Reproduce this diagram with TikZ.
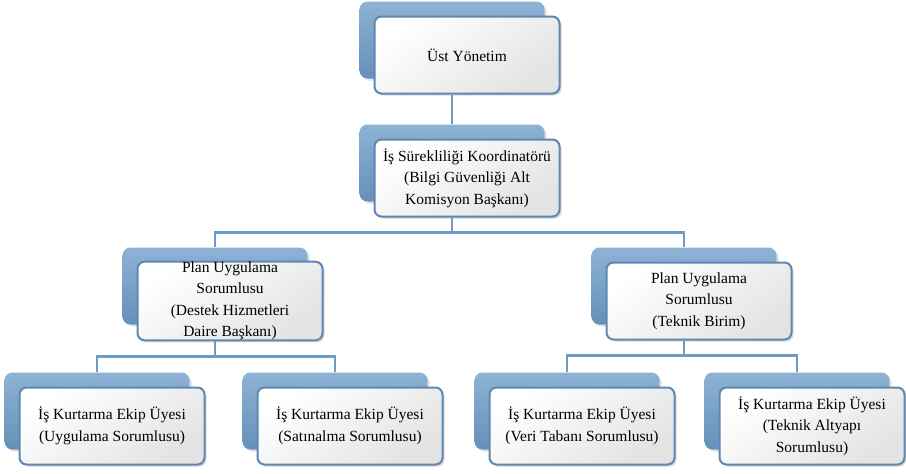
\documentclass[tikz,border=0pt]{standalone}
\usepackage{fontspec}
\setmainfont{Liberation Serif}
\usepackage{tikz}
\usetikzlibrary{shadows}
\definecolor{backtop}{HTML}{8DB2D4}
\definecolor{backbot}{HTML}{6690B9}
\definecolor{frameblue}{HTML}{5E88B2}
\definecolor{linkblue}{HTML}{6E9BC6}

\begin{document}
\begin{tikzpicture}[x=1pt,y=-1pt]
\tikzstyle{blueback}=[rounded corners=8pt, minimum width=185pt, minimum height=77pt, inner sep=0pt, top color=backtop, bottom color=backbot, drop shadow={opacity=0.2}]
\tikzstyle{whitebox}=[rounded corners=7pt, minimum width=185pt, minimum height=77pt, inner sep=0pt, draw=frameblue, line width=2pt, top color=white, middle color=white, bottom color=black!11, shading angle=35, drop shadow={opacity=0.3,shadow xshift=2pt,shadow yshift=-2pt}, align=center, font=\fontsize{15.5}{21.5}\selectfont]
\tikzstyle{link}=[draw=linkblue, line width=2.5pt]
\useasboundingbox (0,0) rectangle (906,474);

\node[blueback] (ustb) at (452,40) {};
\node[whitebox] (ust) at ([shift={(15,15)}]ustb) {Üst Yönetim};
\node[blueback] (koorb) at (452,163) {};
\node[whitebox] (koor) at ([shift={(15,15)}]koorb) {İş Sürekliliği Koordinatörü\\(Bilgi Güvenliği Alt\\Komisyon Başkanı)};
\node[blueback] (plandesb) at (215,286) {};
\node[whitebox] (plandes) at ([shift={(15,15)}]plandesb) {Plan Uygulama\\Sorumlusu\\(Destek Hizmetleri\\Daire Başkanı)};
\node[blueback] (plantekb) at (684,286) {};
\node[whitebox] (plantek) at ([shift={(15,15)}]plantekb) {Plan Uygulama\\Sorumlusu\\(Teknik Birim)};
\node[blueback] (ekipuygb) at (97,411) {};
\node[whitebox] (ekipuyg) at ([shift={(15,15)}]ekipuygb) {İş Kurtarma Ekip Üyesi\\(Uygulama Sorumlusu)};
\node[blueback] (ekipsatb) at (335,411) {};
\node[whitebox] (ekipsat) at ([shift={(15,15)}]ekipsatb) {İş Kurtarma Ekip Üyesi\\(Satınalma Sorumlusu)};
\node[blueback] (ekipverib) at (567,411) {};
\node[whitebox] (ekipveri) at ([shift={(15,15)}]ekipverib) {İş Kurtarma Ekip Üyesi\\(Veri Tabanı Sorumlusu)};
\node[blueback] (ekipaltb) at (797,411) {};
\node[whitebox] (ekipalt) at ([shift={(15,15)}]ekipaltb) {İş Kurtarma Ekip Üyesi\\(Teknik Altyapı\\Sorumlusu)};

\draw[link] (ustb.north |- ust.south) -- (koorb.north);
\draw[link] (koorb.north |- koor.south) -- ++(0,15) -| (plandesb.north);
\draw[link] (koorb.north |- koor.south) -- ++(0,15) -| (plantekb.north);
\draw[link] (plandesb.north |- plandes.south) -- ++(0,15) -| (ekipuygb.north);
\draw[link] (plandesb.north |- plandes.south) -- ++(0,15) -| (ekipsatb.north);
\draw[link] (plantekb.north |- plantek.south) -- ++(0,15) -| (ekipverib.north);
\draw[link] (plantekb.north |- plantek.south) -- ++(0,15) -| (ekipaltb.north);
\end{tikzpicture}
\end{document}
